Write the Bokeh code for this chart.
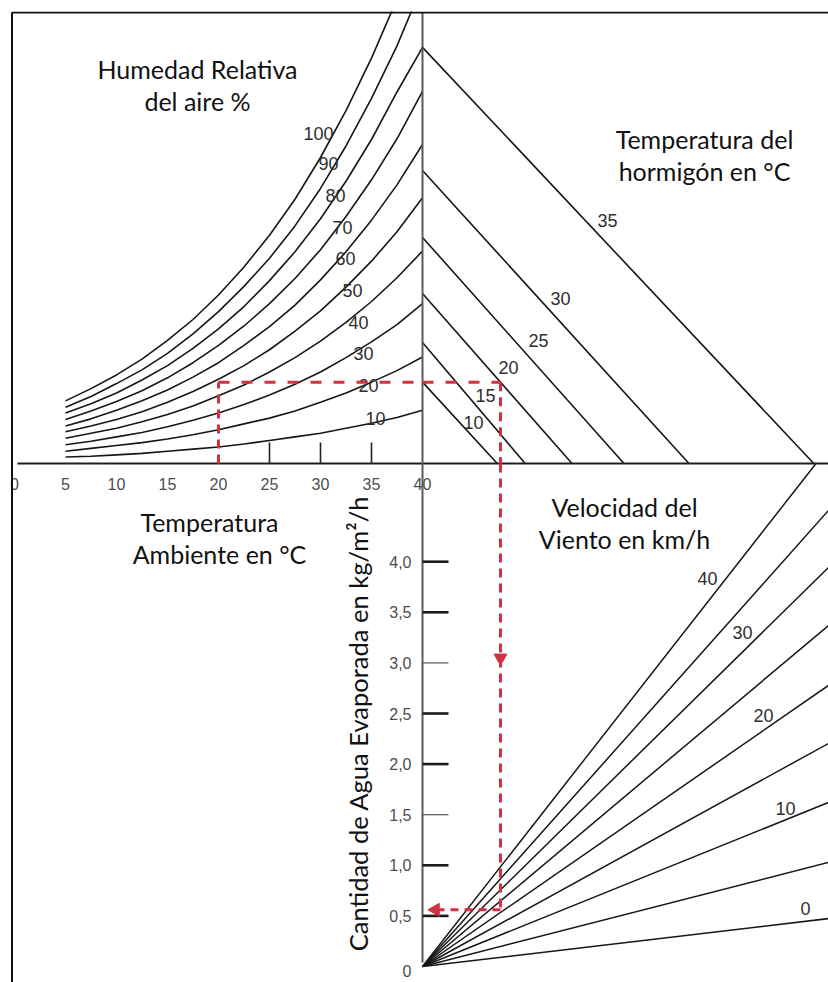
import numpy as np
from bokeh.plotting import figure
from bokeh.models import Range1d
from bokeh.core.properties import value
from bokeh.embed import file_html
from bokeh.resources import INLINE

# ---------------------------------------------------------------- data
# air temperature (°C) at which the relative-humidity curves are read
air_temp = [5, 7.5, 10, 12.5, 15, 17.5, 20, 22.5, 25, 27.5, 30, 32.5, 35, 37.5, 40]

# water-vapour pressure of the air (hPa) for each relative humidity
vap_rh100 = [8.7, 10.4, 12.3, 14.5, 17.1, 20.0, 23.4, 27.3, 31.7, 36.7, 42.5, 49.0, 56.3, 64.5]
vap_rh90 = [7.8, 9.3, 11.1, 13.0, 15.3, 18.0, 21.1, 24.6, 28.5, 33.0, 38.2, 44.1, 50.7, 58.0, 66.5]
vap_rh80 = [7.0, 8.3, 9.8, 11.6, 13.6, 16.0, 18.7, 21.8, 25.4, 29.4, 34.0, 39.2, 45.0, 51.6, 57.8]
vap_rh70 = [6.1, 7.3, 8.6, 10.1, 11.9, 14.0, 16.4, 19.1, 22.2, 25.7, 29.7, 34.3, 39.4, 45.1, 51.7]
vap_rh60 = [5.2, 6.2, 7.4, 8.7, 10.2, 12.0, 14.0, 16.4, 19.0, 22.0, 25.5, 29.4, 33.8, 38.7, 44.3]
vap_rh50 = [4.4, 5.2, 6.1, 7.2, 8.5, 10.0, 11.7, 13.6, 15.8, 18.4, 21.2, 24.5, 28.1, 32.2, 36.9]
vap_rh40 = [3.5, 4.2, 4.9, 5.8, 6.8, 8.0, 9.4, 10.9, 12.7, 14.7, 17.0, 19.6, 22.5, 25.8, 29.5]
vap_rh30 = [2.6, 3.1, 3.7, 4.3, 5.1, 6.0, 7.0, 8.2, 9.5, 11.0, 12.7, 14.7, 16.9, 19.3, 22.2]
vap_rh20 = [1.7, 2.1, 2.5, 2.9, 3.4, 4.0, 4.7, 5.5, 6.3, 7.3, 8.5, 9.8, 11.3, 12.9, 14.8]
vap_rh10 = [0.9, 1.0, 1.2, 1.4, 1.7, 2.0, 2.3, 2.7, 3.2, 3.7, 4.2, 4.9, 5.6, 6.4, 7.4]

# concrete temperature lines: vapour pressure on the vertical axis (hPa)
# and pressure difference where they meet the horizontal axis (hPa)
concrete_temp = [10, 15, 20, 25, 30, 35]
concrete_vap_start = [11.3, 16.8, 23.6, 31.4, 40.7, 57.8]
concrete_diff_end = [11.5, 15.8, 23.0, 31.0, 41.0, 60.2]

# wind speed lines (km/h): evaporation reached at 60 hPa of pressure difference
wind_speed = [0, 5, 10, 15, 20, 25, 30, 35, 40]
wind_evap_at_60 = [0.455, 0.988, 1.557, 2.117, 2.668, 3.237, 3.788, 4.329, 4.926]

# axis ticks
air_temp_ticks = [0, 5, 10, 15, 20, 25, 30, 35, 40]
air_temp_marks = [25, 30, 35]
evap_ticks = [0.5, 1.0, 1.5, 2.0, 2.5, 3.0, 3.5, 4.0]
evap_tick_labels = ["0", "0,5", "1,0", "1,5", "2,0", "2,5", "3,0", "3,5", "4,0"]

# worked example: 20 °C air, concrete 20 °C, wind 20 km/h
ex_air_temp = 20
ex_vapour = 11.3
ex_diff = 12.0
ex_evap = 0.56

# ---------------------------------------------------------------- layout
W, H = 828, 982
FX0, FY0 = 10, 11                # frame starts here (outside is blank margin)
X_T0, T_PX = 14.0, 10.2          # 0 °C position, px per °C
AXIS_Y, HPA_PX = 463.0, 7.2      # horizontal axis, px per hPa (vertical)
AXIS_X, DIFF_PX = 422.0, 6.5     # vertical axis, px per hPa (horizontal)
EVAP_Y0, EVAP_PX = 966.0, 101.2  # zero evaporation, px per kg/m²/h

INK = "#161616"
RED = "#d0323f"
TITLE_FONT = value("Lato")
NUM_FONT = value("Liberation Sans")

p = figure(width=W, height=H, x_range=Range1d(FX0, W), y_range=Range1d(H, FY0),
           x_axis_type=None, y_axis_type=None, toolbar_location=None,
           output_backend="svg", min_border=0, min_border_left=FX0,
           min_border_top=FY0, title=None)
p.outline_line_color = None
p.background_fill_color = "white"
p.border_fill_color = "white"

p.extra_x_ranges = {
    "temp": Range1d((FX0 - X_T0) / T_PX, (W - X_T0) / T_PX),
    "diff": Range1d((FX0 - AXIS_X) / DIFF_PX, (W - AXIS_X) / DIFF_PX),
}
p.extra_y_ranges = {
    "hpa": Range1d((AXIS_Y - H) / HPA_PX, (AXIS_Y - FY0) / HPA_PX),
    "evap": Range1d((EVAP_Y0 - H) / EVAP_PX, (EVAP_Y0 - FY0) / EVAP_PX),
}
TH = dict(x_range_name="temp", y_range_name="hpa")
DH = dict(x_range_name="diff", y_range_name="hpa")
DE = dict(x_range_name="diff", y_range_name="evap")

evap_at_axis = (EVAP_Y0 - AXIS_Y) / EVAP_PX
diff_max = (W - AXIS_X) / DIFF_PX

# ---- relative humidity curves (upper left)
rh_curves = [(100, vap_rh100), (90, vap_rh90), (80, vap_rh80), (70, vap_rh70),
             (60, vap_rh60), (50, vap_rh50), (40, vap_rh40), (30, vap_rh30),
             (20, vap_rh20), (10, vap_rh10)]
for rh, vals in rh_curves:
    p.line(air_temp[:len(vals)], vals, line_color=INK, line_width=1.6, **TH)

# ---- concrete temperature lines (upper right)
p.segment(x0=[0] * len(concrete_temp), y0=concrete_vap_start,
          x1=concrete_diff_end, y1=[0] * len(concrete_temp),
          line_color=INK, line_width=1.6, **DH)

# ---- wind speed lines (lower right), stopped at the horizontal axis
wx1, wy1 = [], []
for e60 in wind_evap_at_60:
    slope = e60 / 60.0
    v_end = diff_max
    if slope * v_end > evap_at_axis:
        v_end = evap_at_axis / slope
    wx1.append(v_end)
    wy1.append(slope * v_end)
p.segment(x0=[0] * len(wind_speed), y0=[0] * len(wind_speed), x1=wx1, y1=wy1,
          line_color=INK, line_width=1.5, **DE)

# ---- axes
p.segment(x0=[17], y0=[AXIS_Y], x1=[W], y1=[AXIS_Y], line_color="#1e1e1e", line_width=2)
p.segment(x0=[AXIS_X], y0=[12], x1=[AXIS_X], y1=[962], line_color="#5a5a5a", line_width=2)

# small ticks on the air temperature axis
p.segment(x0=air_temp_marks, y0=[0] * 3, x1=air_temp_marks, y1=[21 / HPA_PX] * 3,
          line_color="#222222", line_width=1.6, **TH)
p.text(x=air_temp_ticks, y=[-20 / HPA_PX] * len(air_temp_ticks),
       text=[str(t) for t in air_temp_ticks], text_font=NUM_FONT,
       text_font_size="16px", text_color="#4d4d4d", text_align="center",
       text_baseline="middle", **TH)

# evaporation scale on the vertical axis
thin = [1.5, 3.0]
tick_w = [1.2 if t in thin else 2.6 for t in evap_ticks]
tick_c = ["#555555" if t in thin else "#1c1c1c" for t in evap_ticks]
p.segment(x0=[0] * len(evap_ticks), y0=evap_ticks, x1=[26 / DIFF_PX] * len(evap_ticks),
          y1=evap_ticks, line_color=tick_c, line_width=tick_w, **DE)
p.text(x=[-11 / DIFF_PX] * len(evap_tick_labels), y=[0 - 4 / EVAP_PX] + evap_ticks,
       text=evap_tick_labels, text_font=NUM_FONT, text_font_size="16px",
       text_color="#4d4d4d", text_align="right", text_baseline="middle", **DE)

# ---- curve labels
def lbl(xs, ys, texts, size="18px"):
    p.text(x=xs, y=ys, text=texts, text_font=NUM_FONT, text_font_size=size,
           text_color="#2e2e2e", text_align="center", text_baseline="middle")

lbl([318, 328, 335, 342, 345, 352, 358, 363, 368, 375],
    [133, 163, 195, 227, 258, 290, 322, 353, 385, 418],
    [str(rh) for rh, _ in rh_curves])
lbl([473, 485, 508, 538, 560, 607], [422, 395, 367, 340, 298, 220],
    [str(t) for t in concrete_temp])
lbl([805, 785, 763, 742, 707], [908, 808, 715, 632, 578], ["0", "10", "20", "30", "40"])

# ---- worked example path
p.line([ex_air_temp, ex_air_temp], [0, ex_vapour], line_color=RED, line_width=3,
       line_dash="9 6", **TH)
p.line([ex_air_temp, (AXIS_X - X_T0) / T_PX], [ex_vapour, ex_vapour], line_color=RED,
       line_width=3, line_dash="11 12", **TH)
p.line([0, ex_diff], [ex_vapour, ex_vapour], line_color=RED, line_width=3,
       line_dash="11 12", **DH)
p.line([ex_diff, ex_diff], [ex_vapour, 0], line_color=RED, line_width=3,
       line_dash="9 6", **DH)
p.line([ex_diff, ex_diff], [evap_at_axis, ex_evap], line_color=RED, line_width=3,
       line_dash="9 6", **DE)
p.line([ex_diff, 14 / DIFF_PX], [ex_evap, ex_evap], line_color=RED, line_width=3,
       line_dash="8 6", **DE)
p.scatter([ex_diff], [3.05], marker="inverted_triangle", size=13, fill_color=RED,
          line_color=RED, **DE)
p.scatter([13 / DIFF_PX], [ex_evap], marker="triangle", angle=np.pi / 2, size=13,
          fill_color=RED, line_color=RED, **DE)

# ---- frame lines (left and top)
p.segment(x0=[11.5, 11.5], y0=[12, 12], x1=[11.5, W], y1=[H, 12],
          line_color="#111111", line_width=2)

# ---- titles
def title(x, y, text, size="25px", angle=0.0):
    p.text(x=[x], y=[y], text=[text], text_font=TITLE_FONT, text_font_size=size,
           text_color="#111111", text_align="center", text_baseline="middle",
           angle=angle)

title(197, 68, "Humedad Relativa")
title(197, 100, "del aire %")
title(704, 138, "Temperatura del")
title(704, 170, "hormigón en °C")
title(209, 521, "Temperatura")
title(219, 553, "Ambiente en °C")
title(624, 506, "Velocidad del")
title(624, 538, "Viento en km/h")
title(357, 723, "Cantidad de Agua Evaporada en kg/m²/h", size="25.5px", angle=np.pi / 2)

open("out.html", "w").write(file_html(p, INLINE))
